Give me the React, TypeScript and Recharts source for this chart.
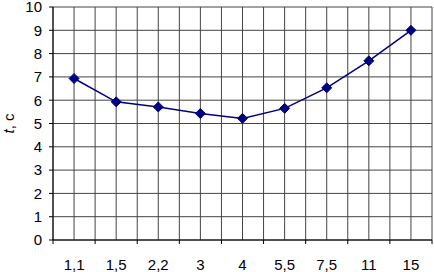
import React from 'react';
import { LineChart, Line, XAxis, YAxis, CartesianGrid } from 'recharts';

const categories = ['1,1', '1,5', '2,2', '3', '4', '5,5', '7,5', '11', '15'];
const tValues = [6.93, 5.93, 5.71, 5.43, 5.22, 5.65, 6.53, 7.69, 9.0];
const yTicks = [0, 1, 2, 3, 4, 5, 6, 7, 8, 9, 10];

const data = categories.map((c, i) => ({ pos: i + 0.5, label: c, t: tValues[i] }));
const xTicks: number[] = [];
for (let i = 0; i <= categories.length * 2; i++) xTicks.push(i / 2);

const FONT = 'Liberation Sans, Arial, sans-serif';

const XTick = (props: any) => {
  const { x, y, payload } = props;
  const v = payload.value as number;
  if (Number.isInteger(v)) {
    return <line x1={x} y1={y} x2={x} y2={y + 4} stroke="#000" strokeWidth={1} />;
  }
  const idx = Math.floor(v);
  return (
    <text x={x} y={y + 30} textAnchor="middle" fontFamily={FONT} fontSize={15} fill="#000">
      {categories[idx]}
    </text>
  );
};

const Diamond = (props: any) => {
  const { cx, cy } = props;
  if (cx == null || cy == null) return null;
  const r = 5;
  return (
    <path
      d={`M${cx},${cy - r}L${cx + r},${cy}L${cx},${cy + r}L${cx - r},${cy}Z`}
      fill="#000080"
      stroke="#000080"
    />
  );
};

const YLabel = (props: any) => {
  const { viewBox } = props;
  const cy = viewBox.y + viewBox.height / 2;
  const x = 14;
  return (
    <text
      x={x}
      y={cy}
      transform={`rotate(-90, ${x}, ${cy})`}
      textAnchor="middle"
      fontFamily={FONT}
      fontSize={15}
      fill="#000"
    >
      <tspan fontStyle="italic">t</tspan>
      <tspan>, c</tspan>
    </text>
  );
};

export default function App() {
  return (
    <div style={{ position: 'absolute', left: 0, top: 0, background: '#fff' }}>
      <LineChart width={434} height={272} data={data} margin={{ top: 7, right: 2, bottom: 0, left: 0 }}>
        <CartesianGrid stroke="#444" strokeWidth={1} />
        <XAxis
          dataKey="pos"
          type="number"
          domain={[0, categories.length]}
          ticks={xTicks}
          interval={0}
          tickLine={false}
          tickSize={0}
          tickMargin={0}
          tick={<XTick />}
          axisLine={{ stroke: '#000' }}
          height={32}
        />
        <YAxis
          domain={[0, 10]}
          ticks={yTicks}
          interval={0}
          width={53}
          tickSize={4}
          tickMargin={7}
          tickLine={{ stroke: '#000' }}
          axisLine={{ stroke: '#000' }}
          tick={{ fontFamily: FONT, fontSize: 15, fill: '#000' }}
          label={<YLabel />}
        />
        <Line
          type="linear"
          dataKey="t"
          stroke="#000080"
          strokeWidth={1.5}
          dot={<Diamond />}
          activeDot={false}
          isAnimationActive={false}
        />
      </LineChart>
    </div>
  );
}
